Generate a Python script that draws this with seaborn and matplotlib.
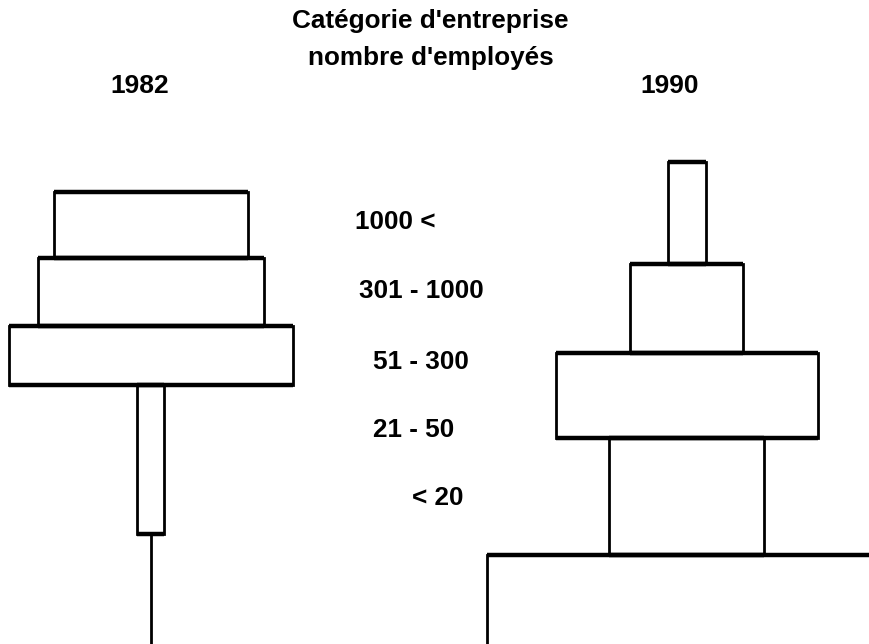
#!/usr/bin/env python3
"""Stacked-block comparison of firm size categories, 1982 vs 1990."""

import matplotlib

matplotlib.use("Agg")
import matplotlib.pyplot as plt
import numpy as np
import seaborn as sns

# categories, bottom to top
categories = ["< 20", "21 - 50", "51 - 300", "301 - 1000", "1000 <"]
years = ["1982", "1990"]

# block widths and heights (pixel-ish units)
widths_1982 = [0, 27, 284, 226, 194]
heights_1982 = [126, 149, 59, 68, 66]
widths_1990 = [400, 155, 262, 113, 38]
heights_1990 = [105, 117, 85, 89, 102]

title_lines = ["Catégorie d'entreprise", "nombre d'employés"]

W, H = 870, 644
BASE = 660  # common baseline sits just below the visible frame


def px(x, y):
    return x / W, 1 - y / H


def draw_stack(ax, center, widths, heights):
    widths = np.asarray(widths, dtype=float)
    heights = np.asarray(heights, dtype=float)
    bottoms = np.concatenate([[0], np.cumsum(heights)[:-1]])
    ax.bar(
        np.full(len(widths), center),
        heights,
        width=widths,
        bottom=bottoms,
        align="center",
        facecolor="white",
        edgecolor="black",
        linewidth=2.0,
    )
    # horizontal edges are drawn heavier in the original
    for w, b, h in zip(widths, bottoms, heights):
        if w <= 0:
            continue
        ax.hlines([b, b + h], center - w / 2, center + w / 2,
                  colors="black", linewidth=3.2)


def main() -> None:
    sns.set_theme(style="white")
    plt.rcParams["font.family"] = ["Liberation Sans", "DejaVu Sans"]
    plt.rcParams["text.color"] = "black"

    fig = plt.figure(figsize=(W / 100, H / 100), dpi=100)
    ax = fig.add_axes([0, 0, 1, 1])
    ax.set_xlim(0, W)
    ax.set_ylim(BASE - H, BASE)
    ax.axis("off")

    draw_stack(ax, 151, widths_1982, heights_1982)
    draw_stack(ax, 687, widths_1990, heights_1990)

    # titles
    fig.text(*px(430, 28), title_lines[0], ha="center", va="baseline",
             fontsize=18.8, fontweight="bold", color="black")
    fig.text(*px(431, 65), title_lines[1], ha="center", va="baseline",
             fontsize=18.8, fontweight="bold", color="black")
    for label, cx in zip(years, [140, 670]):
        fig.text(*px(cx, 93), label, ha="center", va="baseline",
                 fontsize=19, fontweight="bold", color="black")

    # category labels between the two stacks, top to bottom
    label_left = [412, 373, 373, 359, 355]
    label_base = [505, 437, 369, 298, 229]
    for lab, lx, ly in zip(categories, label_left, label_base):
        fig.text(*px(lx, ly), lab, ha="left", va="baseline",
                 fontsize=18.8, fontweight="bold", color="black")

    fig.savefig("out.png", dpi=100, facecolor="white")
    plt.close(fig)


if __name__ == "__main__":
    main()
